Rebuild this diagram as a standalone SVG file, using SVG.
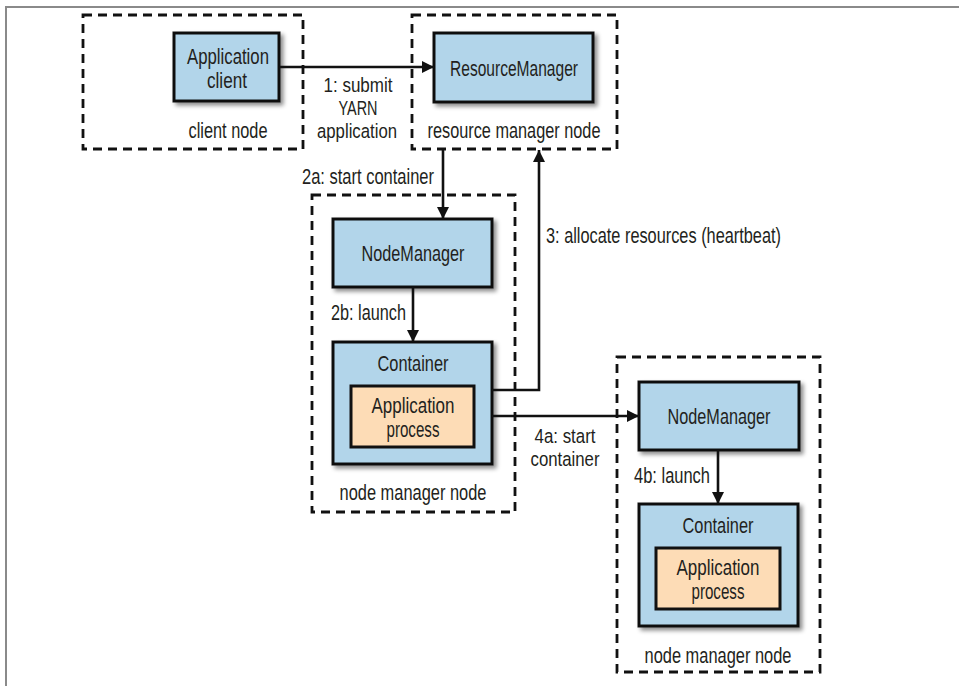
<svg xmlns="http://www.w3.org/2000/svg" width="959" height="686" viewBox="0 0 959 686">
<style>
text{font-family:"Liberation Sans",Arial,sans-serif;font-size:22px;fill:#231f20;text-anchor:middle}
.lbl{font-size:20.5px}
.grp{fill:none;stroke:#111;stroke-width:2.8;stroke-dasharray:9,6}
.box{fill:#b2d5ea;stroke:#111;stroke-width:3;filter:url(#sh)}
.proc{fill:#fddcb6;stroke:#111;stroke-width:3}
.con{fill:none;stroke:#111;stroke-width:2.6}
.s{text-anchor:start}
.e{text-anchor:end}
</style>
<defs>
<filter id="sh" x="-10%" y="-10%" width="130%" height="140%">
<feDropShadow dx="3" dy="3" stdDeviation="2" flood-color="#000" flood-opacity="0.45"/>
</filter>
<marker id="ah" viewBox="0 0 12 12" refX="12" refY="6" markerWidth="12" markerHeight="12" orient="auto" markerUnits="userSpaceOnUse">
<path d="M0,0 L12,6 L0,12 z" fill="#111"/>
</marker>
</defs>
<rect width="959" height="686" fill="#fff"/>
<path d="M6,686 V7 H959" fill="none" stroke="#8a8a8a" stroke-width="2"/>

<g id="client-node">
<rect class="grp" x="83" y="15" width="220" height="134"/>
<text x="228" y="138" textLength="79" lengthAdjust="spacingAndGlyphs">client node</text>
</g>
<g id="application-client">
<rect class="box" x="174" y="33" width="105" height="68"/>
<text x="228" y="64" textLength="82" lengthAdjust="spacingAndGlyphs">Application</text>
<text x="227" y="88" textLength="40" lengthAdjust="spacingAndGlyphs">client</text>
</g>

<g id="resource-manager-node">
<rect class="grp" x="412" y="15" width="205" height="134"/>
<text x="514" y="138" textLength="173" lengthAdjust="spacingAndGlyphs">resource manager node</text>
</g>
<g id="resource-manager">
<rect class="box" x="434" y="33" width="159" height="69"/>
<text x="514" y="76" textLength="128" lengthAdjust="spacingAndGlyphs">ResourceManager</text>
</g>

<g id="node-manager-node-1">
<rect class="grp" x="312" y="195" width="203" height="317"/>
<text x="413" y="500" textLength="147" lengthAdjust="spacingAndGlyphs">node manager node</text>
</g>
<g id="node-manager-1">
<rect class="box" x="333" y="219" width="159" height="68"/>
<text x="413" y="261" textLength="103" lengthAdjust="spacingAndGlyphs">NodeManager</text>
</g>
<g id="container-1">
<rect class="box" x="333" y="342" width="159" height="122"/>
<text x="413" y="371" textLength="71" lengthAdjust="spacingAndGlyphs">Container</text>
<rect class="proc" x="351" y="386" width="123" height="61"/>
<text x="413" y="413" textLength="83" lengthAdjust="spacingAndGlyphs">Application</text>
<text x="413" y="437" textLength="53" lengthAdjust="spacingAndGlyphs">process</text>
</g>

<g id="node-manager-node-2">
<rect class="grp" x="617" y="357" width="203" height="315"/>
<text x="718" y="663" textLength="147" lengthAdjust="spacingAndGlyphs">node manager node</text>
</g>
<g id="node-manager-2">
<rect class="box" x="639" y="382" width="160" height="68"/>
<text x="719" y="424" textLength="103" lengthAdjust="spacingAndGlyphs">NodeManager</text>
</g>
<g id="container-2">
<rect class="box" x="639" y="504" width="159" height="122"/>
<text x="718" y="533" textLength="71" lengthAdjust="spacingAndGlyphs">Container</text>
<rect class="proc" x="656" y="548" width="124" height="61"/>
<text x="718" y="575" textLength="83" lengthAdjust="spacingAndGlyphs">Application</text>
<text x="718" y="599" textLength="53" lengthAdjust="spacingAndGlyphs">process</text>
</g>

<g id="connectors">
<path class="con" d="M280,67 H434" marker-end="url(#ah)"/>
<text class="lbl" x="358" y="92" textLength="69" lengthAdjust="spacingAndGlyphs">1: submit</text>
<text class="lbl" x="358" y="115" textLength="39" lengthAdjust="spacingAndGlyphs">YARN</text>
<text class="lbl" x="357" y="138" textLength="80" lengthAdjust="spacingAndGlyphs">application</text>

<path class="con" d="M443,149 V219" marker-end="url(#ah)"/>
<text class="e" x="434" y="184" textLength="132" lengthAdjust="spacingAndGlyphs">2a: start container</text>

<path class="con" d="M413,287 V342" marker-end="url(#ah)"/>
<text class="e" x="406" y="320" textLength="75" lengthAdjust="spacingAndGlyphs">2b: launch</text>

<path class="con" d="M492,390 H539 V150" marker-end="url(#ah)"/>
<text class="s" x="546" y="243" textLength="235" lengthAdjust="spacingAndGlyphs">3: allocate resources (heartbeat)</text>

<path class="con" d="M492,416 H639" marker-end="url(#ah)"/>
<text class="lbl" x="565" y="443" textLength="61" lengthAdjust="spacingAndGlyphs">4a: start</text>
<text class="lbl" x="565" y="466" textLength="69" lengthAdjust="spacingAndGlyphs">container</text>

<path class="con" d="M718,450 V504" marker-end="url(#ah)"/>
<text class="e" x="710" y="483" textLength="76" lengthAdjust="spacingAndGlyphs">4b: launch</text>
</g>
</svg>
